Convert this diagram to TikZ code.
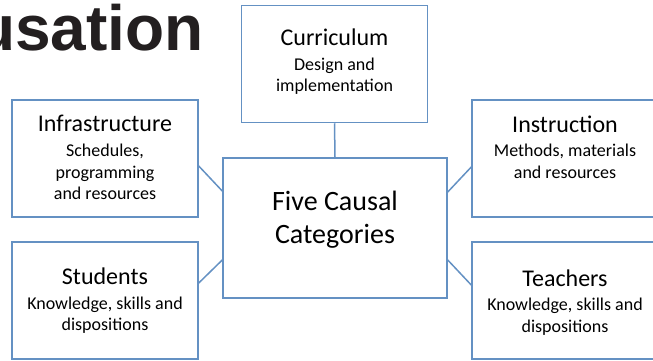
\documentclass[tikz,border=0pt]{standalone}
\usepackage{fontspec}
\setmainfont{Carlito}
\newfontfamily\headingfont{Liberation Sans}
\usepackage{tikz}
\usetikzlibrary{positioning}

\definecolor{boxblue}{RGB}{100,145,195}
\definecolor{titleink}{RGB}{35,31,32}

\begin{document}
\begin{tikzpicture}[
		x=1pt, y=-1pt,
		box/.style={draw=boxblue, line width=1.5pt, fill=white, inner sep=0pt,
			minimum width=186pt, minimum height=117pt},
		head/.style={font=\fontsize{24}{29}\selectfont, inner sep=0pt},
		sub/.style={font=\fontsize{18}{21.5}\selectfont, align=center, inner sep=0pt},
		link/.style={draw=boxblue, line width=1.5pt}
	]
	\useasboundingbox (0, 0) rectangle (653, 360);
	\clip (0, 0) rectangle (653, 360);
	
	\node[anchor=base west, inner sep=0pt, text=titleink,
		font=\headingfont\bfseries\fontsize{64}{70}\selectfont] (slidetitle) at (-24, 50) {usation};
	
	\node[box] (cur) at (334.5, 64) {};
	\node[box] (infra) at (105, 158.5) {};
	\node[box] (instr) at (565, 158.5) {};
	\node[box] (stud) at (105, 300.5) {};
	\node[box] (teach) at (565, 300.5) {};
	\node[box, minimum width=224pt, minimum height=140pt] (five) at (335, 228) {};
	
	\draw[link] (cur.south) -- (five.north);
	\draw[link] ([yshift=-7.5pt]infra.east) -- ([yshift=37pt]five.west);
	\draw[link] ([yshift=17.5pt]stud.east) -- ([yshift=-32pt]five.west);
	\draw[link] ([yshift=36pt]five.east) -- ([yshift=-8.5pt]instr.west);
	\draw[link] ([yshift=-32pt]five.east) -- ([yshift=15.5pt]teach.west);
	
	\node[head, below=24pt of cur.north] (curhead) {Curriculum};
	\node[sub, below=11.5pt of curhead] (cursub) {Design and\\implementation};
	
	\node[head, below=16pt of infra.north] (infrahead) {Infrastructure};
	\node[sub, below=12pt of infrahead] (infrasub) {Schedules,\\programming\\and resources};
	
	\node[head, below=16pt of instr.north] (instrhead) {Instruction};
	\node[sub, below=11.5pt of instrhead] (instrsub) {Methods, materials\\and resources};
	
	\node[head, below=26pt of stud.north] (studhead) {Students};
	\node[sub, below=12pt of studhead] (studsub) {Knowledge, skills and\\dispositions};
	
	\node[head, below=28pt of teach.north] (teachhead) {Teachers};
	\node[sub, below=11.5pt of teachhead] (teachsub) {Knowledge, skills and\\dispositions};
	
	\node[below=34pt of five.north, inner sep=0pt, align=center,
		font=\fontsize{28}{33}\selectfont] (fivetext) {Five Causal\\Categories};
\end{tikzpicture}
\end{document}
